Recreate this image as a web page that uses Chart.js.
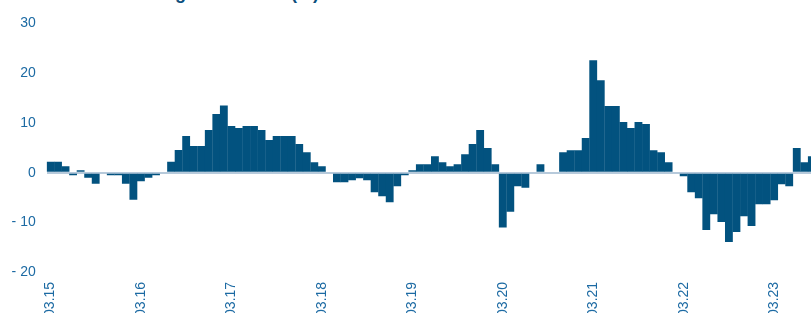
<!DOCTYPE html>
<html>
<head>
<meta charset="utf-8">
<script src="https://cdn.jsdelivr.net/npm/chart.js@4/dist/chart.umd.min.js"></script>
<style>
  html, body { margin: 0; padding: 0; background: #ffffff; }
  body { width: 811px; height: 313px; overflow: hidden; position: relative; }
  #title { position: absolute; left: 114px; top: -17px; font: bold 18px "Liberation Sans", Arial, sans-serif; line-height: 20px; color: #0b4f7d; white-space: nowrap; }
  #wrap { position: absolute; left: 0; top: 0; width: 820px; height: 340px; }
</style>
</head>
<body>
<div id="title">Housing investment (%)</div>
<div id="wrap"><canvas id="c" width="820" height="340"></canvas></div>
<script>
// Monthly observations, first bar = March 2015
const startMonth = 3, startYear = 2015;
const values = [
  2.2, 2.2, 1.3, -0.5, 0.5, -1.0, -2.2, 0.2, -0.5, -0.5, -2.2, -5.4,
  -1.7, -1.0, -0.5, 0.2, 2.2, 4.6, 7.4, 5.4, 5.4, 8.6, 11.8, 13.5,
  9.4, 9.0, 9.4, 9.4, 8.6, 6.6, 7.4, 7.4, 7.4, 5.8, 4.15, 2.1,
  1.3, 0, -1.9, -1.9, -1.5, -1.1, -1.5, -3.9, -4.7, -5.9, -2.7, -0.5,
  0.5, 1.7, 1.7, 3.3, 2.1, 1.3, 1.7, 3.7, 5.8, 8.6, 5.0, 1.7,
  -11.0, -7.8, -2.7, -3.0, 0, 1.7, 0, 0, 4.15, 4.55, 4.55, 7.0,
  22.6, 18.6, 13.4, 13.4, 10.2, 9.0, 10.2, 9.8, 4.55, 4.15, 2.1, 0,
  -0.7, -3.9, -5.1, -11.5, -8.3, -9.9, -13.9, -11.9, -8.7, -10.7, -6.3, -6.3,
  -5.5, -2.3, -2.7, 5.0, 2.1, 3.3
];
const tickLabels = ["03.15", "03.16", "03.17", "03.18", "03.19", "03.20", "03.21", "03.22", "03.23"];
const yTicks = [-20, -10, 0, 10, 20, 30];

const categories = values.map((v, i) => {
  const m = (startMonth - 1 + i) % 12 + 1;
  const y = startYear + Math.floor((startMonth - 1 + i) / 12);
  return String(m).padStart(2, '0') + '.' + String(y % 100).padStart(2, '0');
});

const BAR = '#02527f';
const TICK = '#1c6aa3';
const FONT = { family: '"Liberation Sans", Arial, sans-serif', size: 14 };

new Chart(document.getElementById('c'), {
  type: 'bar',
  data: {
    labels: categories,
    datasets: [{
      data: values,
      backgroundColor: BAR,
      borderWidth: 0,
      barPercentage: 1.04,
      categoryPercentage: 1.0
    }]
  },
  options: {
    responsive: false,
    animation: false,
    devicePixelRatio: 1,
    layout: { padding: { top: 23.4, right: 4.4, bottom: 0, left: 0 } },
    plugins: { legend: { display: false }, tooltip: { enabled: false }, title: { display: false } },
    scales: {
      x: {
        grid: { display: false, drawTicks: false },
        border: { display: false },
        ticks: {
          autoSkip: false,
          minRotation: 90,
          maxRotation: 90,
          padding: 9.5,
          color: TICK,
          font: FONT,
          callback: function (val, idx) {
            const lab = categories[idx];
            return tickLabels.includes(lab) ? lab : '';
          }
        },
        afterFit: function (s) { s.height = 67.6; s.paddingLeft = 0; s.paddingRight = 0; }
      },
      y: {
        min: -20,
        max: 30,
        z: 1,
        afterBuildTicks: function (s) { s.ticks = yTicks.map(v => ({ value: v })); },
        grid: {
          drawTicks: false,
          color: ctx => (ctx.tick && ctx.tick.value === 0) ? '#b7cadb' : 'rgba(0,0,0,0)',
          lineWidth: ctx => (ctx.tick && ctx.tick.value === 0) ? 2 : 0
        },
        border: { display: false },
        ticks: {
          padding: 11,
          color: TICK,
          font: FONT,
          callback: v => v < 0 ? '- ' + Math.abs(v) : String(v)
        },
        afterFit: function (s) { s.width = 46.7; s.paddingTop = 0; s.paddingBottom = 0; }
      }
    }
  }
});
</script>
</body>
</html>
